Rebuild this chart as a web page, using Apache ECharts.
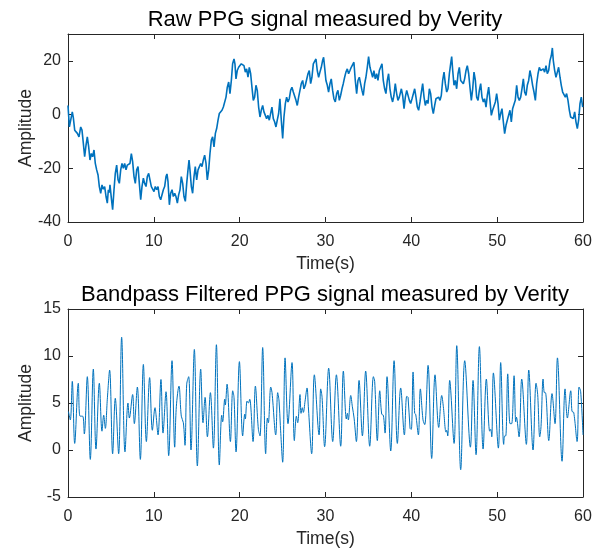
<!DOCTYPE html>
<html><head><meta charset="utf-8">
<script src="https://cdn.jsdelivr.net/npm/echarts@6/dist/echarts.min.js"></script>
<style>html,body{margin:0;padding:0;background:#fff}#c{width:603px;height:551px}</style>
</head><body><div id="c"></div>
<script>
// Raw PPG signal: [time (s), amplitude]
const rawPPG = [
[0,3.4],[0.16,-4.6],[0.35,-1.5],[0.50,1.0],[0.62,-1.1],[0.78,-5.8],[0.93,-5.2],[1.09,-7.0],[1.28,-8.3],[1.48,-4.6],[1.63,-5.8],[1.79,-10.8],[1.94,-15.7],[2.10,-11.4],[2.25,-8.3],[2.41,-12.0],[2.56,-16.9],[2.72,-14.5],[2.87,-15.7],[3.03,-13.2],[3.18,-18.2],[3.34,-20.6],[3.50,-22.5],[3.65,-26.8],[3.81,-29.3],[3.96,-26.2],[4.12,-27.8],[4.27,-26.8],[4.43,-30.5],[4.58,-33.0],[4.70,-28.0],[4.82,-29.0],[4.89,-26.2],[5.05,-31.1],[5.20,-35.4],[5.36,-28.0],[5.51,-21.9],[5.67,-18.8],[5.83,-24.3],[5.98,-25.6],[6.14,-20.6],[6.29,-18.2],[6.45,-20.0],[6.60,-18.2],[6.76,-20.6],[6.91,-18.8],[7.07,-19.4],[7.22,-18.2],[7.38,-14.5],[7.53,-17.5],[7.69,-23.1],[7.84,-25.6],[8.00,-20.6],[8.16,-19.4],[8.31,-25.6],[8.47,-31.7],[8.62,-26.8],[8.78,-23.7],[8.93,-25.6],[9.09,-26.8],[9.24,-23.1],[9.40,-21.9],[9.55,-24.3],[9.71,-26.8],[9.86,-26.2],[10.02,-28.7],[10.17,-26.8],[10.33,-28.0],[10.49,-26.8],[10.64,-30.5],[10.80,-31.7],[10.95,-32.3],[11.11,-28.0],[11.26,-26.8],[11.42,-23.1],[11.53,-22.1],[11.65,-24.9],[11.81,-33.6],[11.96,-29.3],[12.12,-28.0],[12.27,-30.5],[12.43,-29.3],[12.58,-30.5],[12.74,-33.0],[12.89,-29.9],[13.05,-28.0],[13.20,-23.1],[13.36,-25.6],[13.51,-30.5],[13.67,-32.3],[13.83,-25.6],[13.98,-20.6],[14.10,-16.9],[14.21,-20.6],[14.37,-26.8],[14.52,-29.3],[14.68,-23.1],[14.83,-19.4],[14.99,-24.3],[15.15,-20.6],[15.30,-20.6],[15.46,-18.2],[15.61,-19.4],[15.77,-16.9],[15.92,-15.1],[16.08,-18.2],[16.23,-24.3],[16.39,-20.6],[16.54,-14.5],[16.70,-9.5],[16.85,-8.3],[17.01,-12.0],[17.17,-7.0],[17.32,-5.2],[17.48,-2.1],[17.63,0.4],[17.79,0.4],[17.94,1.6],[18.10,2.8],[18.25,2.8],[18.41,6.5],[18.56,10.2],[18.72,12.1],
[18.87,7.8],[19.03,12.7],[19.18,18.9],[19.34,20.7],[19.45,18.9],[19.57,13.3],[19.72,16.4],[19.88,17.6],[20.04,17.0],[20.19,18.9],[20.35,19.5],[20.50,18.2],[20.66,15.8],[20.81,17.0],[20.97,13.9],[21.12,17.6],[21.28,15.2],[21.43,10.2],[21.59,5.3],[21.74,6.5],[21.90,10.9],[22.05,9.0],[22.21,2.8],[22.37,-0.9],[22.52,1.6],[22.68,3.4],[22.83,1.0],[22.99,1.6],[23.14,-1.5],[23.30,-0.3],[23.45,-2.1],[23.61,-1.5],[23.76,2.8],[23.92,-1.5],[24.07,-2.7],[24.23,-4.6],[24.38,-2.1],[24.54,0.4],[24.69,5.9],[24.85,-2.1],[25.01,-8.9],[25.16,-0.9],[25.32,4.1],[25.47,6.5],[25.63,4.7],[25.78,5.9],[25.94,9.0],[26.09,10.2],[26.25,8.4],[26.40,7.8],[26.56,5.3],[26.71,3.4],[26.87,6.5],[27.02,7.1],[27.18,11.5],[27.34,12.7],[27.49,9.6],[27.65,10.9],[27.80,10.2],[27.96,15.2],[28.11,16.4],[28.27,11.5],[28.42,13.9],[28.58,18.9],[28.73,19.5],[28.89,20.7],[29.04,16.4],[29.20,13.9],[29.35,15.8],[29.51,17.6],[29.66,20.1],[29.78,21.3],[29.90,17.6],[30.05,12.7],[30.21,10.9],[30.36,8.4],[30.52,11.5],[30.67,13.3],[30.83,9.0],[30.98,5.9],[31.14,4.7],[31.30,7.8],[31.45,9.0],[31.61,5.3],[31.76,7.1],[31.92,9.6],[32.07,11.5],[32.23,13.9],[32.38,15.8],[32.54,17.0],[32.69,15.2],[32.85,16.4],[33.00,17.6],[33.16,18.2],[33.31,19.5],[33.47,12.7],[33.63,7.8],[33.78,12.7],[33.94,13.9],[34.09,11.5],[34.25,9.0],[34.40,7.1],[34.56,11.5],[34.71,13.9],[34.87,17.6],[35.02,21.6],[35.18,17.6],[35.33,15.8],[35.49,13.9],[35.64,16.4],[35.80,13.3],[35.96,15.2],[36.11,12.7],[36.27,16.4],[36.42,17.6],[36.58,18.9],[36.73,12.7],[36.89,9.6],[37.04,7.8],[37.20,12.7],[37.35,15.2],[37.51,9.6],[37.66,6.5],[37.82,4.7],[37.97,7.1],[38.13,11.5],[38.29,7.8],[38.44,5.3],[38.60,6.5],
[38.84,9.6],[38.99,7.1],[39.15,2.2],[39.30,6.5],[39.46,9.0],[39.61,9.6],[39.77,5.3],[39.92,4.1],[40.08,5.9],[40.23,5.3],[40.39,9.6],[40.54,6.5],[40.70,2.8],[40.85,1.6],[41.01,4.7],[41.17,8.4],[41.32,11.5],[41.48,6.5],[41.63,3.4],[41.79,5.3],[41.94,4.1],[42.10,9.6],[42.25,7.8],[42.41,2.8],[42.56,0.4],[42.72,3.4],[42.87,5.9],[43.03,5.3],[43.18,6.5],[43.34,5.3],[43.49,7.1],[43.65,12.7],[43.81,15.8],[43.96,11.5],[44.12,8.4],[44.27,9.6],[44.43,15.2],[44.58,18.9],[44.70,21.6],[44.82,16.4],[44.97,10.9],[45.13,12.7],[45.28,9.6],[45.44,15.2],[45.59,17.6],[45.75,12.7],[45.90,12.1],[46.06,11.5],[46.21,13.3],[46.37,16.4],[46.52,18.2],[46.68,15.2],[46.83,10.2],[46.99,5.3],[47.15,9.6],[47.30,15.8],[47.46,12.7],[47.61,6.5],[47.77,5.3],[47.92,9.0],[48.08,11.5],[48.23,6.5],[48.39,4.7],[48.54,5.9],[48.70,2.8],[48.85,7.1],[49.01,10.2],[49.16,5.3],[49.32,-0.3],[49.47,1.6],[49.63,2.2],[49.79,4.7],[49.94,7.8],[50.10,4.1],[50.25,-2.1],[50.41,0.4],[50.56,2.2],[50.72,-2.7],[50.87,-7.1],[51.03,-4.0],[51.18,-2.1],[51.34,-1.5],[51.49,1.6],[51.65,-2.7],[51.80,2.2],[51.96,2.8],[52.11,5.3],[52.27,10.9],[52.43,6.5],[52.58,5.3],[52.74,6.5],[52.89,9.6],[53.05,13.3],[53.20,8.4],[53.36,7.1],[53.51,10.9],[53.67,12.7],[53.82,16.4],[53.98,13.9],[54.13,10.9],[54.29,8.4],[54.45,5.3],[54.60,11.5],[54.76,15.2],[54.91,17.6],[55.07,16.4],[55.22,15.8],[55.38,17.0],[55.53,15.8],[55.69,18.2],[55.84,15.2],[56.00,16.4],[56.15,20.1],[56.31,22.0],[56.43,24.8],[56.54,20.1],[56.70,16.4],[56.85,13.9],[57.01,15.8],[57.16,17.6],[57.32,13.9],[57.47,10.9],[57.63,8.4],[57.78,7.8],[57.94,6.5],[58.09,7.8],[58.25,5.3],[58.41,1.6],[58.56,-0.9],[58.72,-0.3],[58.87,-1.5],[59.03,1.0],[59.18,-2.7],[59.34,-5.2],[59.49,-2.1],[59.65,4.1],[59.80,6.5],[59.96,2.8]
];

// Bandpass filtered PPG signal: [time (s), amplitude]
const filteredPPG = [
[0.05,4.1],[0.27,3.2],[0.50,7.3],[0.78,0.7],[1.20,7.1],[1.40,3.6],[1.71,3.6],[1.90,1.7],[2.25,7.8],[2.60,-1.0],[2.95,8.6],[3.26,0.1],[3.65,7.1],[3.96,2.0],[4.16,3.7],[4.35,2.3],[4.58,5.4],[4.85,8.5],[5.20,-0.4],[5.51,5.5],[5.90,-0.4],[6.25,12.0],[6.64,-0.2],[6.99,5.0],[7.15,3.4],[7.53,5.9],[7.73,2.8],[8.08,6.7],[8.43,-1.0],[8.78,9.1],[9.13,0.9],[9.51,7.7],[9.83,2.1],[10.14,4.5],[10.25,3.8],[10.49,1.6],[10.83,7.5],[11.07,1.8],[11.42,6.2],[11.73,-0.6],[12.12,9.5],[12.43,0.3],[12.62,4.6],[12.93,6.8],[13.20,3.6],[13.44,2.9],[13.63,0.5],[13.83,7.0],[14.06,7.8],[14.33,0.0],[14.72,10.7],[15.07,-1.7],
[15.46,8.6],[15.73,2.9],[15.97,5.6],[16.24,1.4],[16.59,6.1],[16.94,0.2],[17.29,11.2],[17.63,-1.6],[17.91,3.7],[18.02,3.0],[18.26,5.4],[18.33,4.8],[18.53,7.0],[18.92,0.9],[19.19,6.3],[19.34,5.6],[19.58,-0.2],[19.97,9.4],[20.35,1.5],[20.59,3.8],[20.66,3.3],[20.86,5.2],[21.01,5.0],[21.17,5.4],[21.56,0.9],[21.83,6.8],[22.18,2.2],[22.37,1.5],[22.68,10.9],[23.03,-0.4],[23.23,3.4],[23.34,2.9],[23.62,6.7],[23.77,6.1],[24.20,1.6],[24.43,6.1],[24.59,5.2],[24.74,2.6],[25.01,-1.3],[25.29,9.8],[25.63,2.8],[26.10,9.3],[26.37,1.0],[26.61,3.6],[26.76,2.9],[27.03,5.9],[27.15,3.9],[27.30,4.5],[27.42,4.0],[27.62,5.2],[27.85,6.6],[28.00,4.6],[28.39,-0.4],[28.70,8.0],[29.25,1.6],[29.44,6.5],[29.60,5.6],[29.90,0.35],
[30.37,8.7],[30.84,0.9],[31.27,8.0],[31.77,0.4],[32.08,8.4],[32.43,3.3],[32.55,3.9],[32.66,3.2],[32.94,5.8],[33.13,4.6],[33.33,3.4],[33.60,0.9],[33.91,7.4],[34.30,1.5],[34.68,8.4],[35.15,0.4],[35.58,7.8],[35.73,7.3],[36.04,1.0],[36.32,6.3],[36.55,3.8],[36.74,3.7],[36.94,1.8],[37.17,7.8],[37.60,-0.1],[37.99,9.5],[38.37,0.7],[38.76,6.6],[39.19,1.6],[39.46,5.7],[39.62,5.6],[39.85,2.3],[40.00,2.2],[40.20,8.3],[40.39,3.9],[40.51,3.8],[40.82,1.6],[41.05,6.5],[41.36,3.2],[41.56,2.7],[41.95,9.0],[42.37,-0.9],[42.76,8.0],[43.19,2.4],[43.54,5.8],[43.73,4.6],[44.04,1.9],[44.12,2.1],[44.24,1.5],[44.47,7.4],[44.98,0.7],
[45.29,11.1],[45.75,-2.1],[46.22,9.5],[46.88,0.3],[47.19,7.4],[47.54,-0.5],[47.93,11.0],[48.36,0.1],[48.74,7.55],[49.13,2.0],[49.25,2.2],[49.37,1.4],[49.56,8.2],[50.14,0.2],[50.41,9.3],[50.76,0.6],[50.88,1.5],[51.00,1.5],[51.23,8.1],[51.50,2.8],[51.69,2.8],[51.97,7.9],[52.16,3.0],[52.24,3.5],[52.55,1.4],[52.86,7.55],[53.40,0.6],[53.68,8.5],[54.18,0.0],[54.53,7.1],[54.72,5.9],[54.96,1.4],[55.11,2.5],[55.35,7.55],[55.50,6.1],[55.62,6.1],[56.01,1.0],[56.39,6.0],[56.74,2.8],[57.02,9.8],[57.56,-1.2],[57.91,6.5],[58.18,3.4],[58.57,6.3],[58.72,4.1],[58.92,4.0],[59.31,0.9],[59.54,6.7],[59.73,6.2],[60.00,1.6]
];

const chartTitles = ['Raw PPG signal measured by Verity', 'Bandpass Filtered PPG signal measured by Verity'];
const xAxisName = 'Time(s)';
const yAxisName = 'Amplitude';
const timeRange = [0, 60, 10];      // min, max, interval
const rawAmpRange = [-40, 30, 20];
const filtAmpRange = [-5, 15, 5];

const FONT = '"Liberation Sans", Arial, Helvetica, sans-serif';
const TXT = '#262626';
const LINE = '#0072BD';

function xAx(grid, pos, labels) {
  return {
    type: 'value', gridIndex: grid, position: pos,
    min: timeRange[0], max: timeRange[1], interval: timeRange[2],
    axisLine: { show: true, onZero: false, lineStyle: { color: TXT, width: 1 } },
    axisTick: { show: true, inside: true, length: 5, lineStyle: { color: TXT } },
    axisLabel: { show: labels, color: TXT, fontSize: 16, fontFamily: FONT, margin: 12 },
    splitLine: { show: false },
    name: labels ? xAxisName : '', nameLocation: 'middle', nameGap: 33, nameMoveOverlap: false,
    nameTextStyle: { color: TXT, fontSize: 17.5, fontFamily: FONT }
  };
}
function yAx(grid, pos, labels, r) {
  return {
    type: 'value', gridIndex: grid, position: pos,
    min: r[0], max: r[1], interval: r[2],
    axisLine: { show: true, onZero: false, lineStyle: { color: TXT, width: 1 } },
    axisTick: { show: true, inside: true, length: 5, lineStyle: { color: TXT } },
    axisLabel: { show: labels, color: TXT, fontSize: 16, fontFamily: FONT, margin: 7,
                 showMaxLabel: r[1] % r[2] === 0 },
    splitLine: { show: false },
    name: labels ? yAxisName : '', nameLocation: 'middle', nameGap: 33, nameRotate: 90,
    nameMoveOverlap: false,
    nameTextStyle: { color: TXT, fontSize: 17.5, fontFamily: FONT }
  };
}

const chart = echarts.init(document.getElementById('c'), null, { renderer: 'canvas' });
chart.setOption({
  animation: false,
  backgroundColor: '#fff',
  title: [
    { text: chartTitles[0], left: 320, top: 4, textAlign: 'center',
      textStyle: { color: '#000', fontSize: 22, fontWeight: 'normal', fontFamily: FONT } },
    { text: chartTitles[1], left: 320, top: 279, textAlign: 'center',
      textStyle: { color: '#000', fontSize: 22, fontWeight: 'normal', fontFamily: FONT } }
  ],
  grid: [
    { left: 68, right: 20, top: 34, height: 188, containLabel: false },
    { left: 68, right: 20, top: 309, height: 188, containLabel: false }
  ],
  xAxis: [xAx(0, 'bottom', true), xAx(0, 'top', false), xAx(1, 'bottom', true), xAx(1, 'top', false)],
  yAxis: [yAx(0, 'left', true, rawAmpRange), yAx(0, 'right', false, rawAmpRange),
          yAx(1, 'left', true, filtAmpRange), yAx(1, 'right', false, filtAmpRange)],
  series: [
    { type: 'line', xAxisIndex: 0, yAxisIndex: 0, data: rawPPG, showSymbol: false,
      lineStyle: { color: LINE, width: 1.6 }, silent: true },
    { type: 'line', xAxisIndex: 2, yAxisIndex: 2, data: filteredPPG, showSymbol: false,
      smooth: 0.35, lineStyle: { color: LINE, width: 1 }, silent: true }
  ]
});
</script>
</body></html>
